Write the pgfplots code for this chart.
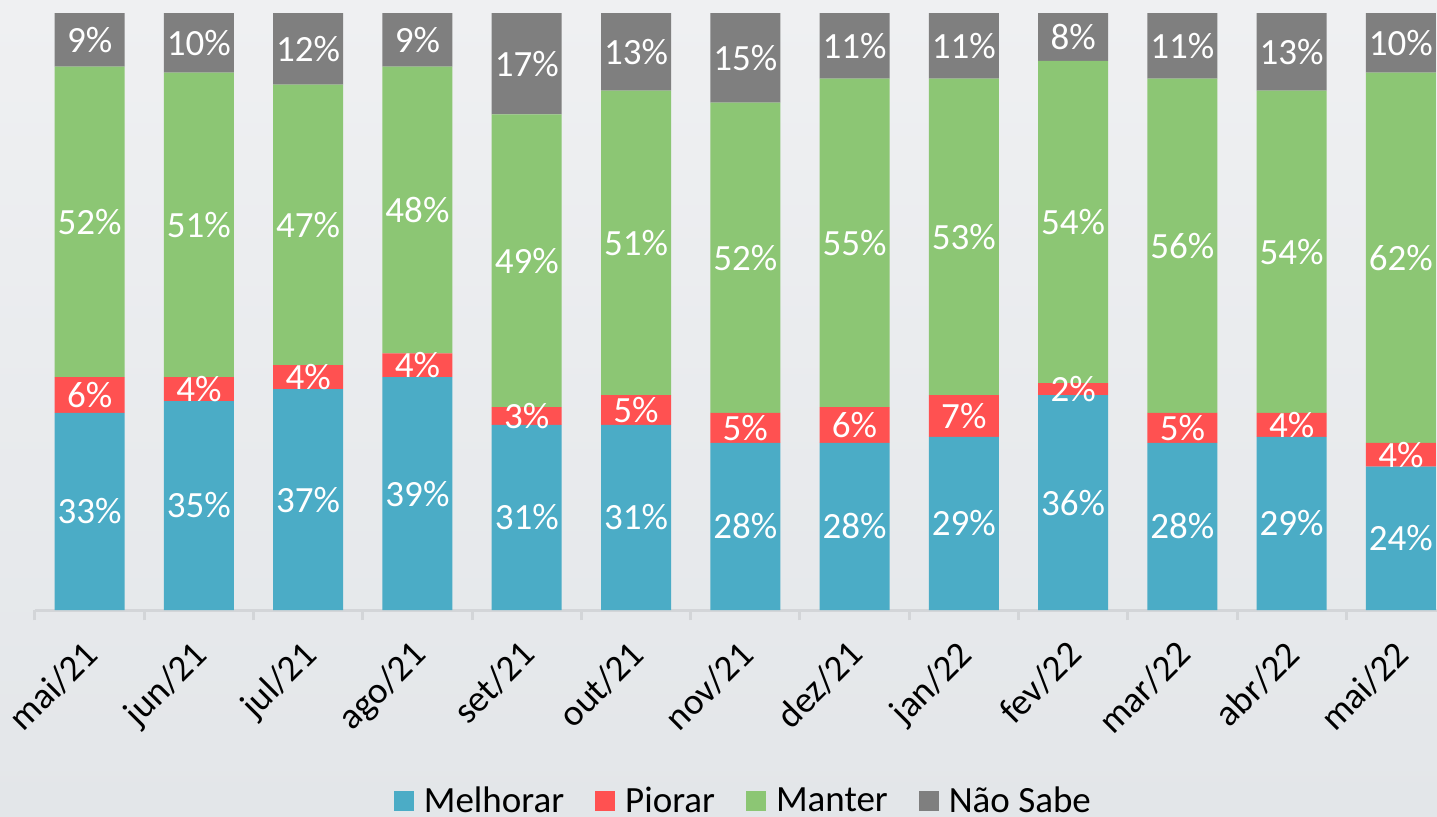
\documentclass[border=0pt]{standalone}
\usepackage{fontspec}
\setmainfont{Carlito}
\usepackage{pgfplots}
\pgfplotsset{compat=1.18}
\usepackage{pgfplotstable}

\definecolor{cMel}{HTML}{4BACC6}
\definecolor{cPio}{HTML}{FF5151}
\definecolor{cMan}{HTML}{8CC674}
\definecolor{cNs}{HTML}{7F7F7F}
\definecolor{axgray}{HTML}{D3D5D8}
\definecolor{bgtop}{HTML}{EFF0F2}
\definecolor{bgbot}{HTML}{E3E6E9}

\pgfplotstableread{
x  mel pio man ns
0  33  6   52  9
1  35  4   51  10
2  37  4   47  12
3  39  4   48  9
4  31  3   49  17
5  31  5   51  13
6  28  5   52  15
7  28  6   55  11
8  29  7   53  11
9  36  2   54  8
10 28  5   56  11
11 29  4   54  13
12 24  4   62  10
}\data

\newcommand{\bigfont}{\fontsize{18.5}{21}\selectfont}

\begin{document}
\begin{tikzpicture}
% background, 1px = 0.5pt
\shade[top color=bgtop, bottom color=bgbot] (-17.5pt,-103pt) rectangle (701pt,305pt);
\begin{axis}[
  at={(0,0)}, anchor=south west,
  scale only axis,
  width=701pt, height=298.5pt,
  disabledatascaling,
  ybar stacked, bar width=35pt,
  xmin=-0.5, xmax=12.33,
  ymin=0, ymax=100,
  axis y line=none,
  axis x line*=bottom,
  x axis line style={axgray, line width=1.5pt},
  ytick=\empty,
  xtick={0,...,12},
  xticklabels={mai/21,jun/21,jul/21,ago/21,set/21,out/21,nov/21,dez/21,jan/22,fev/22,mar/22,abr/22,mai/22},
  major tick length=0pt,
  minor xtick={-0.5,0.5,...,11.5},
  minor tick length=5pt,
  tick align=outside,
  minor tick style={axgray, line width=1.5pt},
  x tick label style={xshift=-4pt, yshift=-14pt, rotate=45, anchor=north east, font=\bigfont, inner sep=0pt},
  /pgf/number format/assume math mode=true,
  point meta=explicit,
  nodes near coords={\pgfmathprintnumber{\pgfplotspointmeta}\%},
  every node near coord/.append style={white, font=\bigfont, anchor=center, inner sep=0pt},
  legend columns=-1,
  legend style={at={(0.506,-0.32)}, anchor=center, draw=none, fill=none, font=\bigfont,
    /tikz/every odd column/.append style={column sep=3pt},
    /tikz/every even column/.append style={column sep=13.5pt}},
  legend image code/.code={\fill[#1] (0pt,-5pt) rectangle (10pt,5pt);},
]
\addplot[fill=cMel, draw=none] table[x=x, y=mel, meta=mel]{\data};
\addplot[fill=cPio, draw=none] table[x=x, y=pio, meta=pio]{\data};
\addplot[fill=cMan, draw=none] table[x=x, y=man, meta=man]{\data};
\addplot[fill=cNs, draw=none] table[x=x, y=ns, meta=ns]{\data};
\legend{Melhorar, Piorar, Manter, Não Sabe}
\end{axis}
\pgfresetboundingbox
\path[use as bounding box] (-17.5pt,-103pt) rectangle (701pt,305pt);
\end{tikzpicture}
\end{document}
